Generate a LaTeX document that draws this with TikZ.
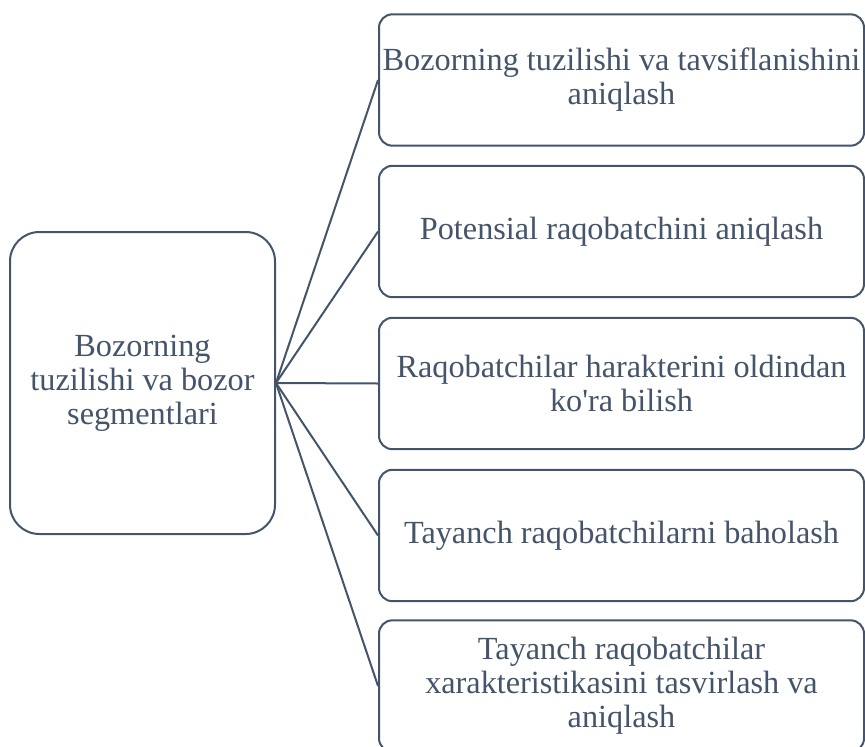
\documentclass[tikz,border=0pt]{standalone}
\usepackage{fontspec}
\setmainfont{Liberation Serif}[Ligatures=TeXOff]
\definecolor{slate}{HTML}{44546A}
\begin{document}
\begin{tikzpicture}[x=0.75pt,y=-0.75pt]

        \useasboundingbox (0,0) rectangle (865,747);

        \begin{scope}[every node/.style={draw=slate, line width=1.5pt, fill=white,
            text=slate, font=\fontsize{24.2}{25.5}\selectfont, align=center,
            inner sep=0pt, rounded corners=10pt}]
          \node[minimum width=198.75pt, minimum height=226.5pt, rounded corners=22pt]
                     (0) at (142.5,383)  {Bozorning\\tuzilishi va bozor\\segmentlari};
          \node[minimum width=363.75pt, minimum height=98.5pt]
                     (1) at (621.5,80)   {Bozorning tuzilishi va tavsiflanishini\\aniqlash};
          \node[minimum width=363.75pt, minimum height=98.5pt]
                     (2) at (621.5,231.5) {Potensial raqobatchini aniqlash};
          \node[minimum width=363.75pt, minimum height=98.5pt]
                     (3) at (621.5,383.5) {Raqobatchilar harakterini oldindan\\ko'ra bilish};
          \node[minimum width=363.75pt, minimum height=98.5pt]
                     (4) at (621.5,535.5) {Tayanch raqobatchilarni baholash};
          \node[minimum width=363.75pt, minimum height=98.5pt]
                     (5) at (621.5,686)  {Tayanch raqobatchilar\\xarakteristikasini tasvirlash va\\aniqlash};
        \end{scope}

        \begin{scope}[every edge/.style={draw=slate, line width=1.5pt}]
          \path (0.east) edge (1.west);
          \path (0.east) edge (2.west);
          \path (0.east) edge (3.west);
          \path (0.east) edge (4.west);
          \path (0.east) edge (5.west);
        \end{scope}

      \end{tikzpicture}
\end{document}
